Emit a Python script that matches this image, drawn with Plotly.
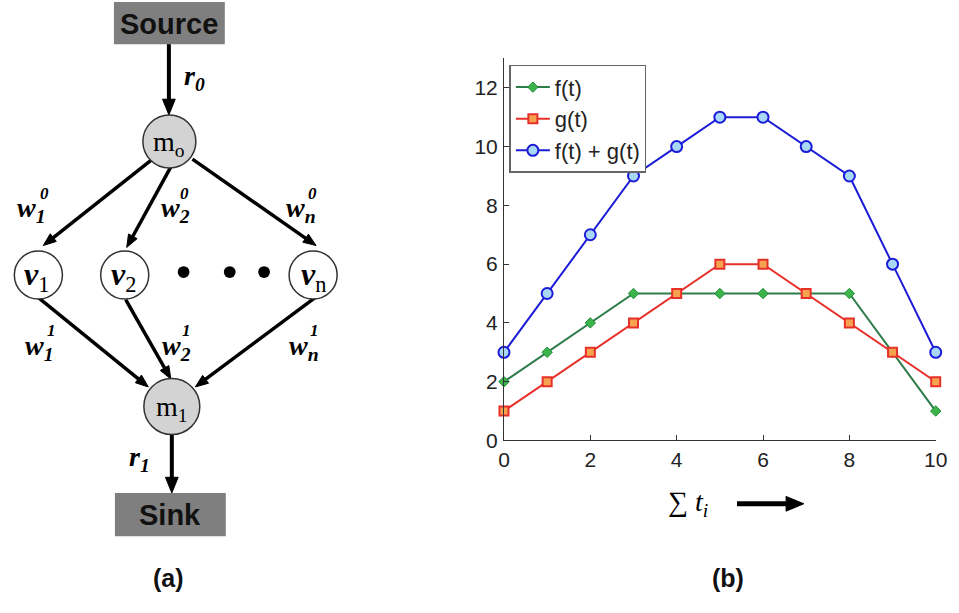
import plotly.graph_objects as go

W, H = 959, 613

# ---------------- data (panel b) ----------------
t_vals = [0, 1, 2, 3, 4, 5, 6, 7, 8, 9, 10]
f_vals = [2, 3, 4, 5, 5, 5, 5, 5, 5, 3, 1]
g_vals = [1, 2, 3, 4, 5, 6, 6, 5, 4, 3, 2]
fg_vals = [3, 5, 7, 9, 10, 11, 11, 10, 9, 6, 3]
series_names = ["f(t)", "g(t)", "f(t) + g(t)"]
x_ticks = [0, 2, 4, 6, 8, 10]
y_ticks = [0, 2, 4, 6, 8, 10, 12]

# ---------------- diagram (panel a) ----------------
node_labels = ["m<sub>o</sub>", "<b><i>v</i></b><sub>1</sub>", "<b><i>v</i></b><sub>2</sub>",
               "<b><i>v</i></b><sub>n</sub>", "m<sub>1</sub>"]
box_labels = ["Source", "Sink"]
edge_sub = ["1", "2", "n"]


def px(x):
    return x / W


def py(y):
    return 1 - y / H


fig = go.Figure()

fig.add_trace(go.Scatter(x=t_vals, y=f_vals, name=series_names[0], mode="lines+markers",
                         line=dict(color="#2f7d4a", width=2),
                         marker=dict(symbol="diamond", size=8, color="#3bb54a",
                                     line=dict(color="#1f8a3a", width=1)),
                         cliponaxis=False))
fig.add_trace(go.Scatter(x=t_vals, y=g_vals, name=series_names[1], mode="lines+markers",
                         line=dict(color="#e8302a", width=2),
                         marker=dict(symbol="square", size=9, color="#f7a24e",
                                     line=dict(color="#e8302a", width=2)),
                         cliponaxis=False))
fig.add_trace(go.Scatter(x=t_vals, y=fg_vals, name=series_names[2], mode="lines+markers",
                         line=dict(color="#1c1cd8", width=2),
                         marker=dict(symbol="circle", size=11, color="#a9d8f7",
                                     line=dict(color="#1c1cd8", width=2)),
                         cliponaxis=False))

x0p, x1p = 507.5, 947.5
ybot, ytop = 448.5, 59.5

axis_font = dict(family="Liberation Sans, Arial", size=21, color="#222")
fig.update_layout(
    width=W, height=H,
    margin=dict(l=0, r=0, t=0, b=0),
    paper_bgcolor="white", plot_bgcolor="white",
    showlegend=True,
    legend=dict(x=px(513), y=py(66), xanchor="left", yanchor="top",
                bgcolor="white", bordercolor="#666", borderwidth=1.5,
                font=dict(family="Liberation Sans, Arial", size=22, color="#222"),
                tracegroupgap=0, itemwidth=34),
    xaxis=dict(domain=[px(x0p), px(x1p)], range=[0, 10], tickvals=x_ticks,
               showgrid=False, zeroline=False, showline=True, linecolor="#333", linewidth=1,
               ticks="inside", ticklen=5, tickcolor="#333", tickfont=axis_font,
               ticklabeloverflow="allow"),
    yaxis=dict(domain=[py(ybot), py(ytop)], range=[0, 13], tickvals=y_ticks,
               showgrid=False, zeroline=False, showline=True, linecolor="#333", linewidth=1,
               ticks="inside", ticklen=5, tickcolor="#333", tickfont=axis_font,
               ticklabelstandoff=1, ticklabeloverflow="allow"),
)

shapes = []
ann = []


def arrow(xa, ya, xb, yb, w=3.5, hl=13, hw=10):
    dx, dy = xb - xa, yb - ya
    L = (dx * dx + dy * dy) ** 0.5
    ux, uy = dx / L, dy / L
    bx, by = xb - ux * hl, yb - uy * hl
    nx, ny = -uy, ux
    shapes.append(dict(type="line", xref="paper", yref="paper",
                       x0=px(xa), y0=py(ya), x1=px(bx + ux * 2), y1=py(by + uy * 2),
                       line=dict(color="black", width=w)))
    p1 = (bx + nx * hw / 2, by + ny * hw / 2)
    p2 = (bx - nx * hw / 2, by - ny * hw / 2)
    path = "M {} {} L {} {} L {} {} Z".format(px(xb), py(yb), px(p1[0]), py(p1[1]),
                                             px(p2[0]), py(p2[1]))
    shapes.append(dict(type="path", xref="paper", yref="paper", path=path,
                       fillcolor="black", line=dict(color="black", width=1)))


def circle(cx, cy, r, fill):
    shapes.append(dict(type="circle", xref="paper", yref="paper",
                       x0=px(cx - r), x1=px(cx + r), y0=py(cy + r), y1=py(cy - r),
                       fillcolor=fill, line=dict(color="#333", width=1.5)))


def box(xa, ya, xb, yb):
    shapes.append(dict(type="rect", xref="paper", yref="paper",
                       x0=px(xa), x1=px(xb), y0=py(yb), y1=py(ya),
                       fillcolor="#7f7f7f", line=dict(color="#7f7f7f", width=0)))


def text(x, y, s, size, family="Liberation Serif, Times New Roman", xanchor="center",
         color="black"):
    ann.append(dict(x=px(x), y=py(y), xref="paper", yref="paper", text=s, showarrow=False,
                    xanchor=xanchor, yanchor="middle",
                    font=dict(family=family, size=size, color=color)))


# boxes
box(110, 2, 223, 45)
box(111, 502, 224, 546)
text(166.5, 24, "<b>" + box_labels[0] + "</b>", 29, family="Liberation Sans, Arial", color="#111")
text(167.5, 524, "<b>" + box_labels[1] + "</b>", 29, family="Liberation Sans, Arial", color="#111")

# arrows
arrow(166, 45, 166, 117, w=4, hl=16, hw=13)
arrow(148, 163, 38, 250, w=3.5, hl=13, hw=10)
arrow(168, 170, 123, 252, w=3.5, hl=13, hw=10)
arrow(190, 162, 316, 250, w=3.5, hl=13, hw=10)
arrow(33, 303, 145, 394, w=3.5, hl=13, hw=10)
arrow(122, 305, 168, 386, w=3.5, hl=13, hw=10)
arrow(315, 303, 193, 394, w=3.5, hl=13, hw=10)
arrow(169, 442, 169, 502, w=4, hl=16, hw=13)

# nodes
circle(166.5, 144, 27, "#d3d3d3")
circle(33, 280, 24.5, "white")
circle(121, 280, 24.5, "white")
circle(313, 280, 24.5, "white")
circle(169, 414, 28.5, "#d3d3d3")
for dx in (181, 228, 263):
    shapes.append(dict(type="circle", xref="paper", yref="paper",
                       x0=px(dx - 6), x1=px(dx + 6), y0=py(277 + 6), y1=py(277 - 6),
                       fillcolor="black", line=dict(color="black", width=0)))

text(166.5, 146, node_labels[0], 28)
text(31, 282, node_labels[1], 32)
text(120, 282, node_labels[2], 32)
text(313, 282, node_labels[3], 32)
text(169, 416, node_labels[4], 28)

# edge labels
text(179, 79, "<b><i>r</i></b><sub><b><i>0</i></b></sub>", 28, xanchor="left")
text(123, 467, "<b><i>r</i></b><sub><b><i>1</i></b></sub>", 28, xanchor="left")

w_low = [(9, 213), (156, 213), (283, 213)]
w_sup0 = [(39, 197), (182, 197), (312, 197)]
w_up = [(17, 354), (157, 354), (286, 354)]
w_sup1 = [(46, 337), (184, 337), (314, 337)]
for (lx, ly), (sx, sy), s in zip(w_low, w_sup0, edge_sub):
    text(lx, ly, "<b><i>w</i></b><sub><b><i>" + s + "</i></b></sub>", 28, xanchor="left")
    text(sx, sy, "<b><i>0</i></b>", 17)
for (lx, ly), (sx, sy), s in zip(w_up, w_sup1, edge_sub):
    text(lx, ly, "<b><i>w</i></b><sub><b><i>" + s + "</i></b></sub>", 28, xanchor="left")
    text(sx, sy, "<b><i>1</i></b>", 17)

# panel labels
text(166, 589, "<b>(a)</b>", 25, family="Liberation Sans, Arial", color="#111")
text(736, 589, "<b>(b)</b>", 25, family="Liberation Sans, Arial", color="#111")

# x-axis label of panel b
text(673, 513, "∑ <i>t</i><sub><i>i</i></sub>", 28, xanchor="left")
arrow(745, 513, 813, 513, w=5, hl=18, hw=15)

fig.update_layout(shapes=shapes, annotations=ann)
fig.write_html("out.html", config={"displayModeBar": False},
               post_script="document.body.style.margin='0';document.body.style.overflow='hidden';")
